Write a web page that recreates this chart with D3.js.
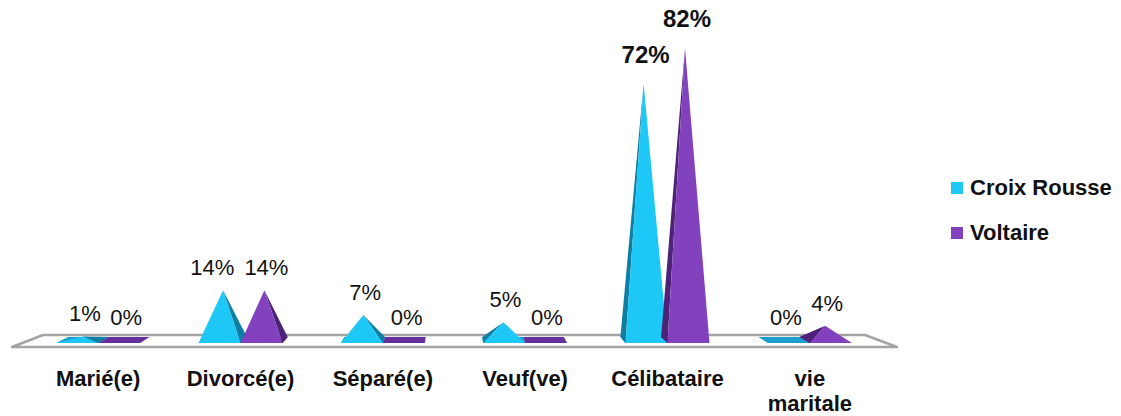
<!DOCTYPE html>
<html><head><meta charset="utf-8">
<script src="https://cdn.jsdelivr.net/npm/d3@7"></script>
<style>
html,body{margin:0;padding:0;background:#fff;}
svg{display:block;}
</style></head>
<body><svg id="chart" width="1121" height="416"></svg>
<script>
const categories = ["Marié(e)", "Divorcé(e)", "Séparé(e)", "Veuf(ve)", "Célibataire", "vie maritale"];
const seriesNames = ["Croix Rousse", "Voltaire"];
const croixRousse = [1, 14, 7, 5, 72, 0];
const voltaire = [0, 14, 0, 0, 82, 4];
const highlightCategory = "Célibataire";

const colors = {"Croix Rousse": "#1EC8F6", "Voltaire": "#8242BE"};
const sideColors = {"Croix Rousse": "#0E7FA3", "Voltaire": "#4E2279"};
const flatColors = {"Croix Rousse": "#1A9FCF", "Voltaire": "#66309C"};

const svg = d3.select("#chart");
const font = "'Liberation Sans',Arial,sans-serif";

const baseY = 343, depth = 6, k = 0.03, vx = 455;
const x = d3.scaleBand().domain(categories).range([27, 881]);
const x1 = d3.scaleBand().domain(seriesNames)
  .range([x.bandwidth() / 2 - 42, x.bandwidth() / 2 + 42]);
const y = d3.scaleLinear().domain([0, 82]).range([baseY, 51]);

// floor
const [r0, r1] = x.range();
const floorFront = 347, floorBack = 335;
const floor = [[r0 - 15, floorFront], [r0 + 16, floorBack], [r1 - 16, floorBack], [r1 + 16, floorFront]];
svg.append("path").attr("d", d3.line()(floor) + "Z")
  .attr("fill", "#fff").attr("stroke", "#a3a3a3").attr("stroke-width", 2.5)
  .attr("stroke-linejoin", "round");

const data = [];
categories.forEach((c, i) => {
  data.push({cat: c, s: "Croix Rousse", v: croixRousse[i]});
  data.push({cat: c, s: "Voltaire", v: voltaire[i]});
});

const g = svg.append("g");
data.forEach(d => {
  const x0 = x(d.cat) + x1(d.s), xr = x0 + x1.bandwidth();
  const FL = [x0, baseY], FR = [xr, baseY];
  const BL = [x0 + (vx - x0) * k, baseY - depth], BR = [xr + (vx - xr) * k, baseY - depth];
  const h = baseY - y(d.v);
  const ax = (FL[0] + FR[0] + BL[0] + BR[0]) / 4;
  const ay = baseY - depth / 2 - h;
  const A = [ax, ay];
  d.apex = A;
  g.append("path").attr("d", d3.line()([FL, FR, BR, BL]) + "Z").attr("fill", flatColors[d.s]);
  if (h > 0) {
    const cxm = (x0 + xr) / 2;
    const side = cxm < vx ? [FR, BR, A] : [FL, BL, A];
    g.append("path").attr("d", d3.line()(side) + "Z").attr("fill", sideColors[d.s]);
    g.append("path").attr("d", d3.line()([FL, FR, A]) + "Z").attr("fill", colors[d.s]);
  }
});

// value labels
const labels = data.map(d => {
  const hl = d.cat === highlightCategory;
  const ly = d.apex[1] - (hl ? 21 : 15);
  const t = svg.append("text")
    .attr("x", d.apex[0] + 2)
    .attr("y", ly)
    .attr("text-anchor", "middle")
    .attr("font-family", font)
    .attr("font-size", hl ? 24 : 22)
    .attr("font-weight", hl ? "bold" : "normal")
    .attr("fill", "#111")
    .text(d.v + "%");
  return {d, t, cx: d.apex[0] + 2, ly};
});
// avoid overlap of paired labels on the same line: push the left one leftward
for (let i = 0; i < labels.length; i += 2) {
  const L = labels[i], R = labels[i + 1];
  if (Math.abs(L.ly - R.ly) > 16) continue;
  const wl = L.t.node().getComputedTextLength(), wr = R.t.node().getComputedTextLength();
  const gap = (R.cx - wr / 2) - (L.cx + wl / 2);
  if (gap < 8) L.t.attr("x", L.cx - (10 - gap));
}

// category labels
categories.forEach(c => {
  const t = svg.append("text")
    .attr("x", x(c) + x.bandwidth() / 2)
    .attr("y", 386)
    .attr("text-anchor", "middle")
    .attr("font-family", font)
    .attr("font-size", 22)
    .attr("font-weight", "bold")
    .attr("fill", "#111");
  c.split(" ").forEach((w, i) => {
    t.append("tspan").attr("x", x(c) + x.bandwidth() / 2).attr("dy", i ? 25 : 0).text(w);
  });
});

// legend
seriesNames.forEach((s, i) => {
  const ly = 182 + i * 45;
  svg.append("rect").attr("x", 951).attr("y", ly).attr("width", 12).attr("height", 12).attr("fill", colors[s]);
  svg.append("text").attr("x", 970).attr("y", ly + 13)
    .attr("font-family", font).attr("font-size", 22).attr("font-weight", "bold")
    .attr("fill", "#111").text(s);
});
</script></body></html>
